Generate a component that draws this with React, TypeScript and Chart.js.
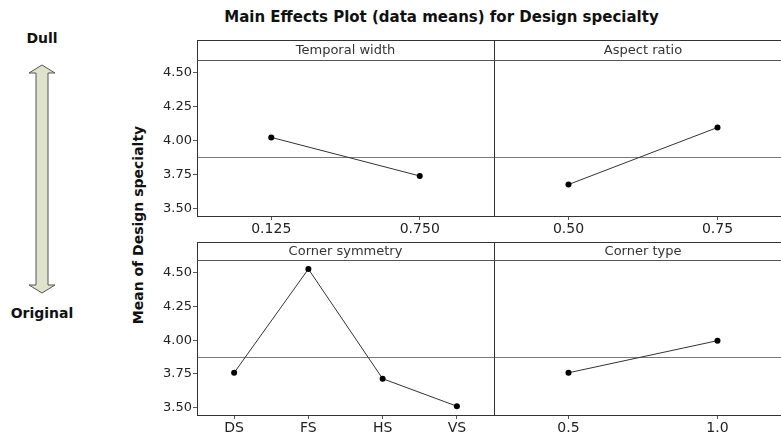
import React, { useEffect, useRef } from "react";
import { Chart, registerables } from "chart.js";

Chart.register(...registerables);

// ---- data ----
const temporalLabels = ["0.125", "0.750"];
const temporalMeans = [4.024, 3.74];
const aspectLabels = ["0.50", "0.75"];
const aspectMeans = [3.677, 4.097];
const symmetryLabels = ["DS", "FS", "HS", "VS"];
const symmetryMeans = [3.758, 4.527, 3.714, 3.51];
const cornerTypeLabels = ["0.5", "1.0"];
const cornerTypeMeans = [3.758, 3.996];
const grandMean = 3.877;
const yTickValues = [3.5, 3.75, 4.0, 4.25, 4.5];
const yMin = 3.445;
const yMax = 4.594;

const FONT = "'DejaVu Sans', Verdana, sans-serif";

type PanelProps = {
  title: string;
  labels: string[];
  values: number[];
  showY: boolean;
  left: number;
  top: number;
  width: number;
  height: number;
  headerH: number;
  axisW: number;
  padRight: number;
};

function Panel(p: PanelProps) {
  const ref = useRef<HTMLCanvasElement | null>(null);
  useEffect(() => {
    if (!ref.current) return;
    const framePlugin = {
      id: "frame",
      beforeDatasetsDraw(chart: any) {
        const { ctx, chartArea, scales } = chart;
        const y = Math.round(scales.y.getPixelForValue(grandMean)) + 0.5;
        ctx.save();
        ctx.strokeStyle = "#7a7a7a";
        ctx.lineWidth = 1;
        ctx.beginPath();
        ctx.moveTo(chartArea.left, y);
        ctx.lineTo(chartArea.right + 1, y);
        ctx.stroke();
        ctx.restore();
      },
      afterDraw(chart: any) {
        const { ctx, chartArea } = chart;
        const L = Math.round(chartArea.left) + 0.5;
        const R = Math.round(chartArea.right) + 0.5;
        const T = Math.round(chartArea.top) + 0.5;
        const B = Math.round(chartArea.bottom) + 0.5;
        const H = Math.round(chartArea.top - p.headerH) + 0.5;
        ctx.save();
        ctx.strokeStyle = "#333";
        ctx.lineWidth = 1;
        ctx.strokeRect(L, H, R - L, B - H);
        ctx.strokeStyle = "#555";
        ctx.beginPath();
        ctx.moveTo(L, T);
        ctx.lineTo(R, T);
        ctx.stroke();
        ctx.fillStyle = "#333";
        ctx.font = `13px ${FONT}`;
        ctx.textAlign = "center";
        ctx.textBaseline = "middle";
        ctx.fillText(p.title, (chartArea.left + chartArea.right) / 2, chartArea.top - p.headerH / 2 + 0.5);
        ctx.restore();
      },
    };
    const chart = new Chart(ref.current, {
      type: "line",
      data: {
        labels: p.labels,
        datasets: [
          {
            data: p.values,
            borderColor: "#333",
            borderWidth: 1,
            pointRadius: 3,
            pointBackgroundColor: "#000",
            pointBorderColor: "#000",
            pointBorderWidth: 0,
            tension: 0,
          },
        ],
      },
      options: {
        responsive: false,
        animation: false,
        events: [],
        layout: { autoPadding: false, padding: { top: p.headerH, right: p.padRight, left: 0, bottom: 0 } },
        plugins: { legend: { display: false }, tooltip: { enabled: false }, title: { display: false } },
        scales: {
          x: {
            type: "category",
            offset: true,
            grid: { display: true, drawOnChartArea: false, drawTicks: true, tickLength: 4, color: "#555" },
            border: { display: false },
            ticks: { font: { family: FONT, size: 14 }, color: "#222", padding: 1, maxRotation: 0, autoSkip: false },
            afterFit: (s: any) => {
              s.height = 24;
            },
          },
          y: {
            type: "linear",
            min: yMin,
            max: yMax,
            display: p.showY,
            afterBuildTicks: (s: any) => {
              s.ticks = yTickValues.map((v) => ({ value: v }));
            },
            grid: { display: true, drawOnChartArea: false, drawTicks: true, tickLength: 4, color: "#555" },
            border: { display: false },
            ticks: {
              font: { family: FONT, size: 13 },
              color: "#222",
              padding: 1,
              callback: (v: any) => Number(v).toFixed(2),
            },
            afterFit: (s: any) => {
              s.width = p.axisW;
            },
          },
        },
      },
      plugins: [framePlugin],
    } as any);
    return () => chart.destroy();
  }, []);
  return (
    <canvas
      ref={ref}
      width={p.width}
      height={p.height}
      style={{ position: "absolute", left: p.left, top: p.top, width: p.width, height: p.height }}
    />
  );
}

export default function App() {
  return (
    <div
      style={{
        position: "fixed",
        left: 0,
        top: 0,
        width: 781,
        height: 439,
        overflow: "hidden",
        background: "#fff",
        fontFamily: FONT,
      }}
    >
      <div
        style={{
          position: "absolute",
          left: 200,
          width: 483,
          top: 8,
          lineHeight: "18px",
          fontSize: 15,
          fontWeight: "bold",
          textAlign: "center",
          color: "#111",
          whiteSpace: "nowrap",
        }}
      >
        Main Effects Plot (data means) for Design specialty
      </div>
      <div
        style={{
          position: "absolute",
          left: 138,
          top: 225,
          transform: "translate(-50%, -50%) rotate(-90deg)",
          fontSize: 14,
          fontWeight: "bold",
          color: "#111",
          whiteSpace: "nowrap",
        }}
      >
        Mean of Design specialty
      </div>
      <div
        style={{
          position: "absolute",
          left: 42,
          top: 38,
          transform: "translate(-50%, -50%)",
          fontSize: 14,
          fontWeight: "bold",
          color: "#111",
        }}
      >
        Dull
      </div>
      <div
        style={{
          position: "absolute",
          left: 42,
          top: 313,
          transform: "translate(-50%, -50%)",
          fontSize: 14,
          fontWeight: "bold",
          color: "#111",
        }}
      >
        Original
      </div>
      <svg style={{ position: "absolute", left: 0, top: 0 }} width={100} height={320}>
        <polygon
          points="42,65 55,73 48,73 48,285 55,285 42,293 29,285 36,285 36,73 29,73"
          fill="#dfe3cc"
          stroke="#555"
          strokeWidth={1}
        />
      </svg>
      <Panel title="Temporal width" labels={temporalLabels} values={temporalMeans} showY={true}
        left={140} top={40} width={355} height={200} headerH={20} axisW={57} padRight={1} />
      <Panel title="Aspect ratio" labels={aspectLabels} values={aspectMeans} showY={false}
        left={494} top={40} width={300} height={200} headerH={20} axisW={0} padRight={2} />
      <Panel title="Corner symmetry" labels={symmetryLabels} values={symmetryMeans} showY={true}
        left={140} top={242} width={355} height={197} headerH={18} axisW={57} padRight={1} />
      <Panel title="Corner type" labels={cornerTypeLabels} values={cornerTypeMeans} showY={false}
        left={494} top={242} width={300} height={197} headerH={18} axisW={0} padRight={2} />
    </div>
  );
}
